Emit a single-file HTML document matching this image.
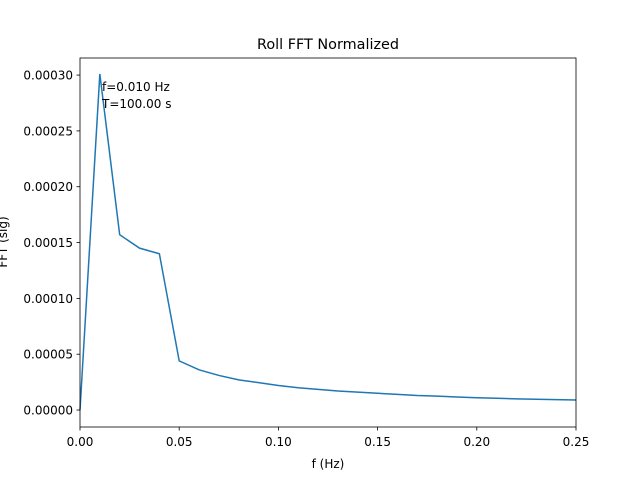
<!DOCTYPE html>
<html><head><meta charset="utf-8"><style>
body{margin:0;background:#fff;}
svg{font-family:"DejaVu Sans","Liberation Sans",sans-serif;}
</style></head><body>
<svg id="chart" width="640" height="480" viewBox="0 0 640 480" xmlns="http://www.w3.org/2000/svg">
<rect width="640" height="480" fill="#fff"/>
<text x="328" y="49" font-size="14.4" text-anchor="middle">Roll FFT Normalized</text>
<g id="axes"></g>
<text x="328" y="468" font-size="12" text-anchor="middle">f (Hz)</text>
<text transform="translate(7,242) rotate(-90)" font-size="12" text-anchor="middle">FFT (sig)</text>
<text x="102" y="91" font-size="12">f=0.010 Hz</text>
<text x="102" y="108" font-size="12">T=100.00 s</text>
</svg>
<script>
const freqs=[0,0.01,0.02,0.03,0.04,0.05,0.06,0.07,0.08,0.09,0.10,0.11,0.12,0.13,0.14,0.15,0.16,0.17,0.18,0.19,0.20,0.21,0.22,0.23,0.24,0.25];
const amps=[0,0.000301,0.000157,0.000145,0.000140,0.000044,0.000036,0.000031,0.000027,0.0000245,0.000022,0.000020,0.0000185,0.000017,0.000016,0.000015,0.000014,0.000013,0.0000124,0.0000117,0.000011,0.0000105,0.000010,0.0000097,0.0000093,0.000009];
const xTicks=[0,0.05,0.10,0.15,0.20,0.25];
const xTickLabels=["0.00","0.05","0.10","0.15","0.20","0.25"];
const yTicks=[0,0.00005,0.0001,0.00015,0.0002,0.00025,0.0003];
const yTickLabels=["0.00000","0.00005","0.00010","0.00015","0.00020","0.00025","0.00030"];
const L=80,R=576,T=58,B=427,xmin=0,xmax=0.25,ymin=-0.0000152,ymax=0.0003153;
const X=v=>L+(v-xmin)/(xmax-xmin)*(R-L);
const Y=v=>B-(v-ymin)/(ymax-ymin)*(B-T);
const NS="http://www.w3.org/2000/svg",g=document.getElementById('axes');
function mk(t,a){const e=document.createElementNS(NS,t);for(const k in a)e.setAttribute(k,a[k]);g.appendChild(e);return e;}
const pts=freqs.map((f,i)=>X(f).toFixed(2)+","+Y(amps[i]).toFixed(2)).join(" ");
const line=mk('polyline',{points:pts,fill:'none',stroke:'#1f77b4','stroke-width':1.5});


xTicks.forEach((v,i)=>{
 const t=mk('line',{x1:X(v),x2:X(v),y1:B,y2:B+3.5,stroke:'#000','stroke-width':0.8});
 
 
 const l=mk('text',{x:X(v),y:B+19,'font-size':12,'text-anchor':'middle'});l.textContent=xTickLabels[i];
 
 
});
yTicks.forEach((v,i)=>{
 const t=mk('line',{x1:L-3.5,x2:L,y1:Y(v),y2:Y(v),stroke:'#000','stroke-width':0.8});
 
 
 const l=mk('text',{x:L-7,y:Y(v)+4.5,'font-size':12,'text-anchor':'end'});l.textContent=yTickLabels[i];
 
 
});
const fr=mk('rect',{x:L,y:T,width:R-L,height:B-T,fill:'none',stroke:'#000','stroke-width':0.8});


</script>
</body></html>
